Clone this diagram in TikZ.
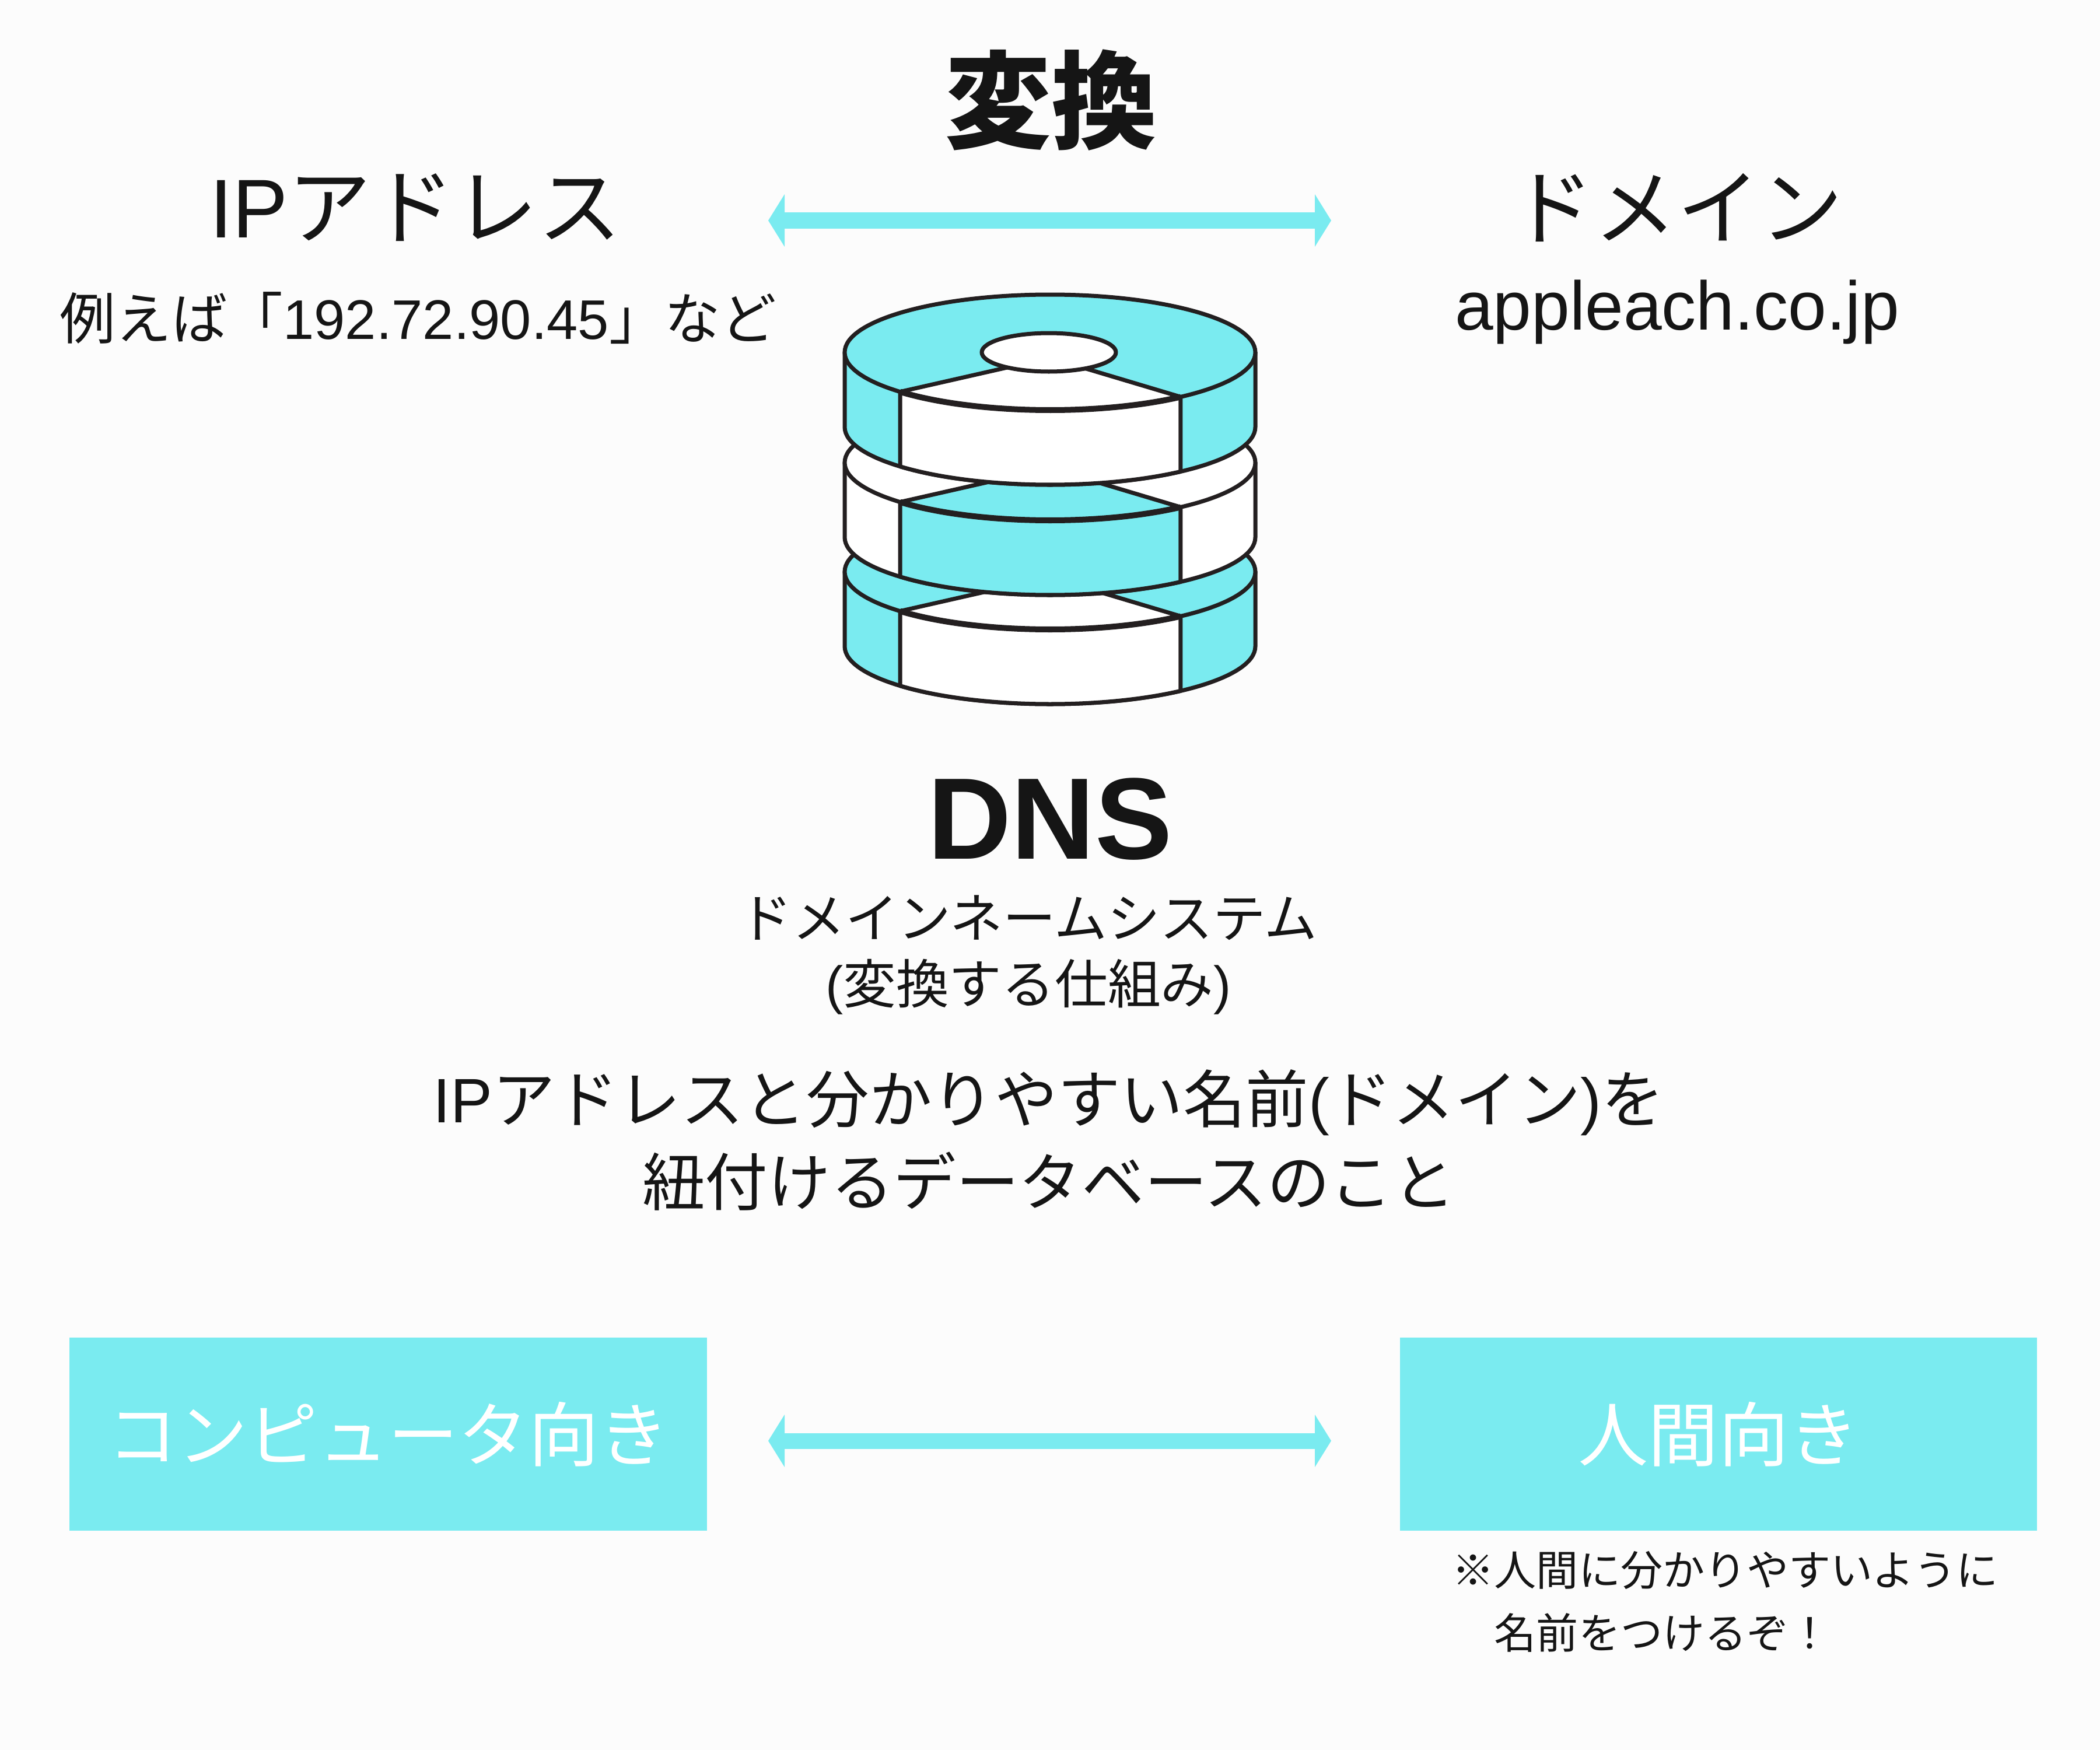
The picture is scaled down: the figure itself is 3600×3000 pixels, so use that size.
\documentclass[tikz,border=0pt]{standalone}
\usepackage{fontspec}
\setmainfont{Noto Sans CJK JP}
\newfontfamily\latn{Liberation Sans}
\usetikzlibrary{arrows.meta}
\definecolor{bgc}{HTML}{FCFCFC}
\definecolor{cyanc}{HTML}{7AEBF0}
\definecolor{linec}{HTML}{231F20}
\definecolor{inkc}{HTML}{151515}
\newcommand{\fs}[2]{\fontsize{#1}{#2}\selectfont}
\tikzset{
  word/.style={text=inkc, inner sep=0pt, align=center},
  discline/.style={draw=linec, line width=0.07cm, line join=round},
  blockbox/.style={fill=cyanc, inner sep=0pt, text=white, font=\fs{34.2}{44}},
  wayarrow/.style={draw=cyanc, line width=0.27cm,
    {Triangle[length=0.28cm,width=0.9cm,line width=0pt]}-{Triangle[length=0.28cm,width=0.9cm,line width=0pt]}}
}
\begin{document}
\begin{tikzpicture}[x=0.01cm,y=-0.01cm]
\useasboundingbox (0,0) rectangle (3600,3000);
\fill [bgc] (0,0) rectangle (3600,3000);
% Top texts
\node [word, font=\bfseries\fs{51.6}{60}] (title) at (1802,172) {変換};
\node [word, font=\fs{40.6}{48}] (ipaddr) at (712,356) {{\latn IP}アドレス};
\node [word, font=\fs{40.4}{48}] (domain) at (2875,356) {ドメイン};
\node [word, font=\fs{27.2}{30}] (sample) at (717,545) {例えば「{\latn 192.72.90.45}」など};
\node [word, font=\latn\fs{33.6}{38}] (appleach) at (2875,535) {appleach.co.jp};
% Top arrow
\coordinate (topleft) at (1317,378);
\coordinate (topright) at (2282,378);
\draw [wayarrow] (topleft) -- (topright);
% Discs
\foreach \cy/\outer/\inner in {980/cyanc/white, 793/white/cyanc, 604/cyanc/white} {
  \begin{scope}[shift={(1800,\cy)}]
    \filldraw [discline, fill=\outer] (-352,0) -- (-352,128)
      arc [start angle=180, end angle=0, x radius=352, y radius=99] -- (352,0) -- cycle;
    \filldraw [discline, fill=\outer] (0,0) ellipse [x radius=352, y radius=99];
    \filldraw [discline, fill=\inner] (136.9:352 and 99)
      arc [start angle=136.9, end angle=50.5, x radius=352, y radius=99] -- ++(0,128)
      arc [start angle=50.5, end angle=136.9, x radius=352, y radius=99] -- cycle;
    \filldraw [discline, fill=\inner] (136.9:352 and 99) -- (-73.5,26) -- (62,28) -- (50.5:352 and 99)
      arc [start angle=50.5, end angle=136.9, x radius=352, y radius=99] -- cycle;
    \draw [discline, line width=0.1cm] (136.9:352 and 99)
      arc [start angle=136.9, end angle=50.5, x radius=352, y radius=99];
  \end{scope}
}
% Hole
\filldraw [discline, fill=white] (1798,604) ellipse [x radius=115, y radius=33];
% DNS texts
\node [word, font=\latn\bfseries\fs{56.5}{66}] (dns) at (1800,1404) {DNS};
\node [word, font=\fs{25.8}{32.2}] (dnsname) at (1763,1637) {ドメインネームシステム\\{\latn(}変換する仕組み{\latn)}};
\node [word, font=\fs{30.6}{40.4}] (about) at (1798,1954) {{\latn IP}アドレスと分かりやすい名前{\latn(}ドメイン{\latn)}を\\紐付けるデータベースのこと};
% Bottom boxes
\node [blockbox, minimum width=10.93cm, minimum height=3.31cm] (pcbox) at (665.5,2458.5) {コンピュータ向き};
\node [blockbox, minimum width=10.92cm, minimum height=3.31cm] (humanbox) at (2946,2458.5) {人間向き};
\coordinate (lowleft) at (1317,2470);
\coordinate (lowright) at (2282,2470);
\draw [wayarrow] (lowleft) -- (lowright);
\node [word, align=left, anchor=west, font=\fs{20.5}{30.7}] (note) at (2489,2746) {※人間に分かりやすいように\\　名前をつけるぞ！};
\end{tikzpicture}
\end{document}
